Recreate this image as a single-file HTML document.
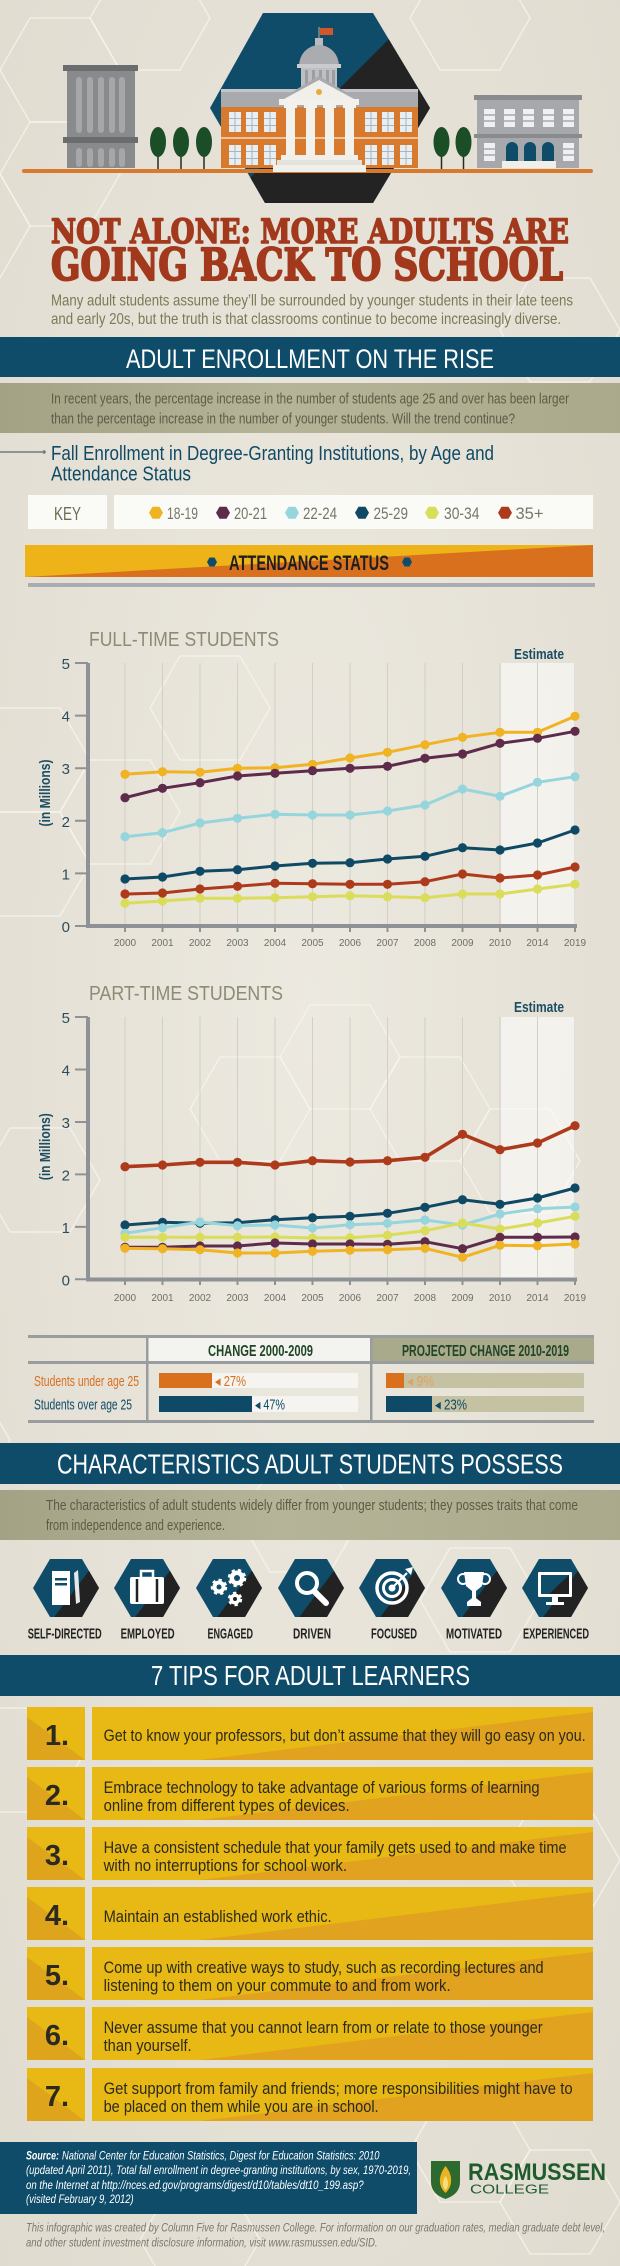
<!DOCTYPE html>
<html><head><meta charset="utf-8"><style>
html,body{margin:0;padding:0;width:620px;height:2266px;overflow:hidden;background:#E7E3D8}
svg{display:block}
text{font-family:"Liberation Sans",sans-serif}
.t{font-family:"Liberation Sans Narrow","Liberation Sans",sans-serif}
.serif{font-family:"DejaVu Serif","Liberation Serif",serif !important;font-weight:bold}
</style></head><body>
<svg width="620" height="2266" viewBox="0 0 620 2266" xmlns="http://www.w3.org/2000/svg">
<defs>
<radialGradient id="bg" cx="50%" cy="45%" r="75%"><stop offset="0" stop-color="#ECE9E0"/><stop offset="1" stop-color="#E0DBCF"/></radialGradient>
<linearGradient id="olive" x1="0" x2="1" y1="0" y2="0"><stop offset="0" stop-color="#A3A285"/><stop offset=".45" stop-color="#B6B498"/><stop offset="1" stop-color="#ABA98B"/></linearGradient>
<polygon id="bh" points="-30,-52 30,-52 60,0 30,52 -30,52 -60,0" fill="none" stroke="#F6F4EE" stroke-width="1.5" opacity=".75"/>
<clipPath id="hx"><polygon points="-16,-29 16,-29 33,0 16,29 -16,29 -33,0"/></clipPath>
<clipPath id="bighex"><polygon points="263,13 373,13 430,108 373,203 265,203 210,108"/></clipPath>
<g id="ic"><g clip-path="url(#hx)"><rect x="-34" y="-30" width="68" height="60" fill="#0E4C6A"/><polygon points="40,-40 40,40 -20,40" fill="#222"/></g></g>
<marker id="mY" viewBox="-5 -5 10 10" markerWidth="10" markerHeight="10" markerUnits="userSpaceOnUse"><circle r="4.6" fill="#F0B323"/></marker>
<marker id="mP" viewBox="-5 -5 10 10" markerWidth="10" markerHeight="10" markerUnits="userSpaceOnUse"><circle r="4.6" fill="#5E2B4B"/></marker>
<marker id="mL" viewBox="-5 -5 10 10" markerWidth="10" markerHeight="10" markerUnits="userSpaceOnUse"><circle r="4.6" fill="#97D5DD"/></marker>
<marker id="mT" viewBox="-5 -5 10 10" markerWidth="10" markerHeight="10" markerUnits="userSpaceOnUse"><circle r="4.6" fill="#0F4964"/></marker>
<marker id="mG" viewBox="-5 -5 10 10" markerWidth="10" markerHeight="10" markerUnits="userSpaceOnUse"><circle r="4.6" fill="#DADD5A"/></marker>
<marker id="mR" viewBox="-5 -5 10 10" markerWidth="10" markerHeight="10" markerUnits="userSpaceOnUse"><circle r="4.6" fill="#AE3A1C"/></marker>
</defs>

<rect width="620" height="2266" fill="url(#bg)"/>
<!-- background hexes -->
<use href="#bh" x="150" y="18"/><use href="#bh" x="60" y="70"/><use href="#bh" x="60" y="174"/><use href="#bh" x="-30" y="226"/>
<use href="#bh" x="470" y="18"/><use href="#bh" x="560" y="330"/>
<use href="#bh" x="30" y="760"/><use href="#bh" x="120" y="812"/><use href="#bh" x="30" y="864"/><use href="#bh" x="210" y="708"/>
<use href="#bh" x="340" y="1057"/><use href="#bh" x="430" y="1109"/><use href="#bh" x="520" y="1161"/><use href="#bh" x="250" y="1109"/>
<use href="#bh" x="40" y="1180"/><use href="#bh" x="-50" y="1440"/><use href="#bh" x="300" y="1520"/><use href="#bh" x="480" y="1600"/>
<use href="#bh" x="20" y="1760"/><use href="#bh" x="560" y="1860"/><use href="#bh" x="470" y="2150"/><use href="#bh" x="560" y="2202"/><use href="#bh" x="200" y="2240"/>

<!-- HEADER ILLUSTRATION -->
<g clip-path="url(#bighex)"><rect x="200" y="0" width="240" height="220" fill="#0E4C6A"/><polygon points="415,13 440,13 440,210 218,210" fill="#232323"/></g>
<!-- left building -->
<rect x="63" y="65" width="75" height="6" fill="#6B6C6E"/>
<rect x="67" y="71" width="68" height="97" fill="#898A8C"/>
<rect x="63" y="137" width="75" height="6" fill="#6B6C6E"/>
<g fill="#A6A7A9"><rect x="76" y="77" width="6" height="56" rx="3"/><rect x="87" y="77" width="6" height="56" rx="3"/><rect x="98" y="77" width="6" height="56" rx="3"/><rect x="109" y="77" width="6" height="56" rx="3"/><rect x="119" y="77" width="6" height="56" rx="3"/>
<rect x="76" y="148" width="6" height="19" rx="3"/><rect x="87" y="148" width="6" height="19" rx="3"/><rect x="98" y="148" width="6" height="19" rx="3"/><rect x="109" y="148" width="6" height="19" rx="3"/><rect x="119" y="148" width="6" height="19" rx="3"/></g>
<!-- trees -->
<g stroke="#2A2A22" stroke-width="1.5"><line x1="158" y1="145" x2="158" y2="169"/><line x1="181" y1="145" x2="181" y2="169"/><line x1="204" y1="145" x2="204" y2="169"/><line x1="441.5" y1="145" x2="441.5" y2="169"/><line x1="463.5" y1="145" x2="463.5" y2="169"/></g>
<g fill="#1B4D26"><ellipse cx="158" cy="142" rx="8" ry="15"/><ellipse cx="181" cy="142" rx="8" ry="15"/><ellipse cx="204" cy="142" rx="8" ry="15"/><ellipse cx="441.5" cy="142" rx="8" ry="15"/><ellipse cx="463.5" cy="142" rx="8" ry="15"/></g>
<!-- right building -->
<rect x="474" y="95" width="108" height="5" fill="#8A8B8E"/>
<rect x="477" y="100" width="102" height="68" fill="#A6A8AB"/>
<rect x="474" y="134" width="108" height="4" fill="#8A8B8E"/>
<g fill="#EEF0F2"><rect x="484" y="109" width="11" height="18"/><rect x="504" y="109" width="11" height="18"/><rect x="523" y="109" width="11" height="18"/><rect x="543" y="109" width="11" height="18"/><rect x="563" y="109" width="11" height="18"/><rect x="484" y="143" width="11" height="18"/><rect x="563" y="143" width="11" height="18"/></g>
<g stroke="#A6A8AB" stroke-width="1.5"><path d="M484 115h11M484 121h11M504 115h11M504 121h11M523 115h11M523 121h11M543 115h11M543 121h11M563 115h11M563 121h11M484 149h11M484 155h11M563 149h11M563 155h11"/></g>
<g fill="#0E4C6A"><path d="M506 162v-14a6 6 0 0 1 12 0v14z"/><path d="M524 162v-14a6 6 0 0 1 12 0v14z"/><path d="M542 162v-14a6 6 0 0 1 12 0v14z"/></g>
<rect x="502" y="161" width="54" height="7" fill="#F1EFEA"/>
<!-- ground -->
<rect x="22" y="169" width="571" height="4" fill="#D77A2E" rx="2"/>
<!-- main building -->
<line x1="319" y1="27" x2="319" y2="42" stroke="#8A8B8E" stroke-width="1.5"/>
<rect x="320" y="28" width="13" height="7" fill="#D2562A"/>
<rect x="315" y="38" width="8" height="8" fill="#B9BBBE"/>
<path d="M299 66a20 21 0 0 1 40 0z" fill="#AAACAF"/>
<rect x="297" y="64" width="44" height="4" fill="#C9CBCE"/>
<rect x="301" y="68" width="36" height="24" fill="#BDBFC2"/>
<g fill="#9C9EA1"><rect x="305" y="70" width="3" height="20"/><rect x="312" y="70" width="3" height="20"/><rect x="319" y="70" width="3" height="20"/><rect x="326" y="70" width="3" height="20"/><rect x="332" y="70" width="3" height="20"/></g>
<rect x="221" y="90" width="197" height="17" fill="#A8AAAD"/>
<rect x="221" y="89" width="197" height="3" fill="#C3C5C8"/>
<rect x="221" y="107" width="197" height="61" fill="#D77A2E"/>
<rect x="221" y="137" width="197" height="2" fill="#EFC29A"/>
<g fill="#EAEEF1"><rect x="229" y="112" width="12" height="20"/><rect x="246" y="112" width="12" height="20"/><rect x="264" y="112" width="12" height="20"/><rect x="365" y="112" width="12" height="20"/><rect x="382" y="112" width="12" height="20"/><rect x="400" y="112" width="12" height="20"/>
<rect x="229" y="145" width="12" height="20"/><rect x="246" y="145" width="12" height="20"/><rect x="264" y="145" width="12" height="20"/><rect x="365" y="145" width="12" height="20"/><rect x="382" y="145" width="12" height="20"/><rect x="400" y="145" width="12" height="20"/></g>
<g stroke="#A3B6C2" stroke-width="1"><path d="M229 118.5h12M229 125.5h12M235 112v20M246 118.5h12M246 125.5h12M252 112v20M264 118.5h12M264 125.5h12M270 112v20M365 118.5h12M365 125.5h12M371 112v20M382 118.5h12M382 125.5h12M388 112v20M400 118.5h12M400 125.5h12M406 112v20"/>
<path d="M229 151.5h12M229 158.5h12M235 145v20M246 151.5h12M246 158.5h12M252 145v20M264 151.5h12M264 158.5h12M270 145v20M365 151.5h12M365 158.5h12M371 145v20M382 151.5h12M382 158.5h12M388 145v20M400 151.5h12M400 158.5h12M406 145v20"/></g>
<polygon points="277,101 319,76 361,101" fill="#A8AAAD"/>
<polygon points="284,99 319,80 354,99" fill="#F1EFEA"/>
<circle cx="319" cy="92" r="3" fill="#E9A93C"/>
<rect x="279" y="99" width="80" height="6" fill="#F3F1EC"/>
<g fill="#F3F1EC"><rect x="286" y="105" width="9" height="51"/><rect x="306" y="105" width="9" height="51"/><rect x="325" y="105" width="9" height="51"/><rect x="345" y="105" width="9" height="51"/>
<rect x="284" y="105" width="13" height="3"/><rect x="304" y="105" width="13" height="3"/><rect x="323" y="105" width="13" height="3"/><rect x="343" y="105" width="13" height="3"/></g>
<rect x="281" y="155" width="77" height="5" fill="#F1EFEA"/>
<rect x="277" y="160" width="85" height="5" fill="#E4E2DC"/>
<rect x="273" y="165" width="93" height="7" fill="#F1EFEA"/>

<!-- TITLE -->
<text x="51" y="243" class="serif" style="font-family:'DejaVu Serif','Liberation Serif',serif;font-weight:bold" font-size="34" fill="#A2391D" stroke="#A2391D" stroke-width="1.6" stroke-linejoin="round" textLength="518" lengthAdjust="spacingAndGlyphs">NOT ALONE: MORE ADULTS ARE</text>
<text x="51" y="280" class="serif" style="font-family:'DejaVu Serif','Liberation Serif',serif;font-weight:bold" font-size="44" fill="#A2391D" stroke="#A2391D" stroke-width="2" stroke-linejoin="round" textLength="512" lengthAdjust="spacingAndGlyphs">GOING BACK TO SCHOOL</text>
<g font-size="16" fill="#7B7A55">
<text x="51" y="305.5" textLength="522" lengthAdjust="spacingAndGlyphs" class="t">Many adult students assume they’ll be surrounded by younger students in their late teens</text>
<text x="51" y="324" textLength="510" lengthAdjust="spacingAndGlyphs" class="t">and early 20s, but the truth is that classrooms continue to become increasingly diverse.</text>
</g>

<!-- BANNER 1 -->
<rect x="0" y="337" width="620" height="40" fill="#0E4C6A"/>
<text x="126" y="368" font-size="27" fill="#fff" textLength="368" lengthAdjust="spacingAndGlyphs">ADULT ENROLLMENT ON THE RISE</text>
<rect x="0" y="383" width="620" height="50" fill="url(#olive)"/>
<text x="51" y="403.3" font-size="15" fill="#5C5B45" class="t" textLength="518" lengthAdjust="spacingAndGlyphs">In recent years, the percentage increase in the number of students age 25 and over has been larger</text>
<text x="51" y="423.3" font-size="15" fill="#5C5B45" class="t" textLength="464" lengthAdjust="spacingAndGlyphs">than the percentage increase in the number of younger students. Will the trend continue?</text>

<line x1="0" y1="452" x2="42" y2="452" stroke="#6D7E80" stroke-width="1.5"/><circle cx="44" cy="452" r="1.8" fill="#6D7E80"/>
<text x="51" y="460" font-size="20" fill="#0F4A66" class="t" textLength="443" lengthAdjust="spacingAndGlyphs">Fall Enrollment in Degree-Granting Institutions, by Age and</text>
<text x="51" y="480.7" font-size="20" fill="#0F4A66" class="t" textLength="140" lengthAdjust="spacingAndGlyphs">Attendance Status</text>

<!-- KEY -->
<rect x="28" y="495" width="79" height="34" fill="#FAFAF7"/>
<rect x="114" y="495" width="479" height="34" fill="#FAFAF7"/>
<text x="54" y="520" font-size="18" fill="#6E6C52" class="t" textLength="27" lengthAdjust="spacingAndGlyphs">KEY</text>
<g transform="translate(0,512.7)">
<polygon transform="translate(156,0)" points="-3.5,-6 3.5,-6 7,0 3.5,6 -3.5,6 -7,0" fill="#F0B323"/>
<polygon transform="translate(223,0)" points="-3.5,-6 3.5,-6 7,0 3.5,6 -3.5,6 -7,0" fill="#5E2B4B"/>
<polygon transform="translate(292,0)" points="-3.5,-6 3.5,-6 7,0 3.5,6 -3.5,6 -7,0" fill="#97D5DD"/>
<polygon transform="translate(362,0)" points="-3.5,-6 3.5,-6 7,0 3.5,6 -3.5,6 -7,0" fill="#0F4964"/>
<polygon transform="translate(432,0)" points="-3.5,-6 3.5,-6 7,0 3.5,6 -3.5,6 -7,0" fill="#DADD5A"/>
<polygon transform="translate(505,0)" points="-3.5,-6 3.5,-6 7,0 3.5,6 -3.5,6 -7,0" fill="#AE3A1C"/>
</g>
<g font-size="17" fill="#777768">
<text x="167" y="519" class="t" textLength="31" lengthAdjust="spacingAndGlyphs">18-19</text>
<text x="234" y="519" class="t" textLength="33" lengthAdjust="spacingAndGlyphs">20-21</text>
<text x="303" y="519" class="t" textLength="34" lengthAdjust="spacingAndGlyphs">22-24</text>
<text x="373.5" y="519" class="t" textLength="34.5" lengthAdjust="spacingAndGlyphs">25-29</text>
<text x="444" y="519" class="t" textLength="35.5" lengthAdjust="spacingAndGlyphs">30-34</text>
<text x="515.5" y="519" class="t" textLength="28" lengthAdjust="spacingAndGlyphs">35+</text>
</g>

<!-- ATTENDANCE -->
<rect x="25" y="545" width="568" height="32" fill="#EDB319"/>
<polygon points="25,577 593,545 593,577" fill="#D9701E"/>
<text x="229" y="570" font-size="21" font-weight="bold" fill="#1F1F1F" class="t" textLength="160" lengthAdjust="spacingAndGlyphs">ATTENDANCE STATUS</text>
<polygon transform="translate(212,562)" points="-2.5,-4.5 2.5,-4.5 5,0 2.5,4.5 -2.5,4.5 -5,0" fill="#0E4C6A"/>
<polygon transform="translate(407,562)" points="-2.5,-4.5 2.5,-4.5 5,0 2.5,4.5 -2.5,4.5 -5,0" fill="#0E4C6A"/>
<rect x="28" y="583" width="567" height="4" fill="#A9ACB1"/>

<!-- FULL-TIME CHART -->
<text x="89" y="646" font-size="20" fill="#8C8B74" textLength="190" lengthAdjust="spacingAndGlyphs">FULL-TIME STUDENTS</text>
<text x="514" y="659" font-size="15" font-weight="bold" fill="#1B4D63" class="t" textLength="50" lengthAdjust="spacingAndGlyphs">Estimate</text>
<rect x="501" y="663" width="75" height="262" fill="#FFFFFF" opacity=".55"/>
<path d="M125 663V924M162.5 663V924M200 663V924M237.5 663V924M275 663V924M312.5 663V924M350 663V924M387.5 663V924M425 663V924M462.5 663V924M500 663V924M537.5 663V924M575 663V924" stroke="#D2CFC5" stroke-width="1"/>
<rect x="86" y="663" width="4" height="265" fill="#8E9195"/>
<rect x="86" y="924" width="491" height="4" fill="#8E9195"/>
<path d="M75 663H88M75 715.6H88M75 768.2H88M75 820.8H88M75 873.4H88M75 926H88" stroke="#8E9195" stroke-width="2"/>
<path d="M125 926v6M162.5 926v6M200 926v6M237.5 926v6M275 926v6M312.5 926v6M350 926v6M387.5 926v6M425 926v6M462.5 926v6M500 926v6M537.5 926v6M575 926v6" stroke="#8E9195" stroke-width="2"/>
<g font-size="15" fill="#2E4D5C" text-anchor="end">
<text x="70" y="669">5</text><text x="70" y="721.6">4</text><text x="70" y="774.2">3</text><text x="70" y="826.8">2</text><text x="70" y="879.4">1</text><text x="70" y="932">0</text>
</g>
<text transform="translate(50,793) rotate(-90)" text-anchor="middle" font-size="15" font-weight="bold" fill="#1B4D63" textLength="67" lengthAdjust="spacingAndGlyphs">(in Millions)</text>
<g font-size="10" fill="#6F6E66" text-anchor="middle">
<text x="125" y="946">2000</text><text x="162.5" y="946">2001</text><text x="200" y="946">2002</text><text x="237.5" y="946">2003</text><text x="275" y="946">2004</text><text x="312.5" y="946">2005</text><text x="350" y="946">2006</text><text x="387.5" y="946">2007</text><text x="425" y="946">2008</text><text x="462.5" y="946">2009</text><text x="500" y="946">2010</text><text x="537.5" y="946">2014</text><text x="575" y="946">2019</text>
</g>
<g fill="none" stroke-width="3" stroke-linejoin="round">
<polyline stroke="#DADD5A" marker-start="url(#mG)" marker-mid="url(#mG)" marker-end="url(#mG)" points="125,903.3 162.5,901 200,898.3 237.5,898.3 275,897.7 312.5,896.7 350,895.7 387.5,896.7 425,897.7 462.5,894 500,894 537.5,889 575,884.3"/>
<polyline stroke="#AE3A1C" marker-start="url(#mR)" marker-mid="url(#mR)" marker-end="url(#mR)" points="125,894 162.5,893 200,889 237.5,886.3 275,883.3 312.5,883.7 350,884.3 387.5,884.3 425,881.7 462.5,874 500,878 537.5,875 575,867"/>
<polyline stroke="#0F4964" marker-start="url(#mT)" marker-mid="url(#mT)" marker-end="url(#mT)" points="125,879 162.5,877 200,871.3 237.5,869.7 275,866 312.5,863.3 350,862.7 387.5,859 425,856.3 462.5,847.7 500,850 537.5,843 575,830"/>
<polyline stroke="#97D5DD" marker-start="url(#mL)" marker-mid="url(#mL)" marker-end="url(#mL)" points="125,836.7 162.5,832.7 200,823 237.5,818.3 275,814.3 312.5,815 350,815 387.5,811 425,805 462.5,789 500,796.3 537.5,782.3 575,776.7"/>
<polyline stroke="#F0B323" marker-start="url(#mY)" marker-mid="url(#mY)" marker-end="url(#mY)" points="125,774.3 162.5,771.7 200,772.3 237.5,768.3 275,767.7 312.5,764.3 350,758 387.5,752.3 425,744.7 462.5,737.3 500,732.3 537.5,732.3 575,716.3"/>
<polyline stroke="#5E2B4B" marker-start="url(#mP)" marker-mid="url(#mP)" marker-end="url(#mP)" points="125,797.7 162.5,788.3 200,782.7 237.5,776 275,773.3 312.5,770.7 350,768.3 387.5,766.3 425,758.3 462.5,754 500,743.3 537.5,738.3 575,731.3"/>
</g>

<!-- PART-TIME CHART -->
<text x="89" y="1000" font-size="20" fill="#8C8B74" textLength="194" lengthAdjust="spacingAndGlyphs">PART-TIME STUDENTS</text>
<text x="514" y="1012" font-size="15" font-weight="bold" fill="#1B4D63" class="t" textLength="50" lengthAdjust="spacingAndGlyphs">Estimate</text>
<rect x="501" y="1017" width="75" height="261" fill="#FFFFFF" opacity=".55"/>
<path d="M125 1017V1277M162.5 1017V1277M200 1017V1277M237.5 1017V1277M275 1017V1277M312.5 1017V1277M350 1017V1277M387.5 1017V1277M425 1017V1277M462.5 1017V1277M500 1017V1277M537.5 1017V1277M575 1017V1277" stroke="#D2CFC5" stroke-width="1"/>
<rect x="86" y="1017" width="4" height="264" fill="#8E9195"/>
<rect x="86" y="1277.5" width="491" height="4" fill="#8E9195"/>
<path d="M75 1017H88M75 1069.5H88M75 1122H88M75 1174.4H88M75 1226.9H88M75 1279.3H88" stroke="#8E9195" stroke-width="2"/>
<path d="M125 1279v6M162.5 1279v6M200 1279v6M237.5 1279v6M275 1279v6M312.5 1279v6M350 1279v6M387.5 1279v6M425 1279v6M462.5 1279v6M500 1279v6M537.5 1279v6M575 1279v6" stroke="#8E9195" stroke-width="2"/>
<g font-size="15" fill="#2E4D5C" text-anchor="end">
<text x="70" y="1023">5</text><text x="70" y="1075.5">4</text><text x="70" y="1128">3</text><text x="70" y="1180.4">2</text><text x="70" y="1232.9">1</text><text x="70" y="1285.3">0</text>
</g>
<text transform="translate(50,1146.7) rotate(-90)" text-anchor="middle" font-size="15" font-weight="bold" fill="#1B4D63" textLength="67" lengthAdjust="spacingAndGlyphs">(in Millions)</text>
<g font-size="10" fill="#6F6E66" text-anchor="middle">
<text x="125" y="1301">2000</text><text x="162.5" y="1301">2001</text><text x="200" y="1301">2002</text><text x="237.5" y="1301">2003</text><text x="275" y="1301">2004</text><text x="312.5" y="1301">2005</text><text x="350" y="1301">2006</text><text x="387.5" y="1301">2007</text><text x="425" y="1301">2008</text><text x="462.5" y="1301">2009</text><text x="500" y="1301">2010</text><text x="537.5" y="1301">2014</text><text x="575" y="1301">2019</text>
</g>
<g fill="none" stroke-width="3" stroke-linejoin="round">
<polyline stroke="#AE3A1C" stroke-width="3.6" marker-start="url(#mR)" marker-mid="url(#mR)" marker-end="url(#mR)" points="125,1166.7 162.5,1165 200,1162.3 237.5,1162.3 275,1165 312.5,1160.7 350,1162 387.5,1160.7 425,1157.3 462.5,1134.3 500,1149.7 537.5,1143 575,1125.7"/>
<polyline stroke="#0F4964" marker-start="url(#mT)" marker-mid="url(#mT)" marker-end="url(#mT)" points="125,1225 162.5,1222.3 200,1223.3 237.5,1222.7 275,1219.7 312.5,1217.7 350,1216.3 387.5,1213.3 425,1207.3 462.5,1199.7 500,1204.3 537.5,1198 575,1188"/>
<polyline stroke="#97D5DD" marker-start="url(#mL)" marker-mid="url(#mL)" marker-end="url(#mL)" points="125,1233.3 162.5,1227.7 200,1222 237.5,1225.7 275,1225 312.5,1228 350,1224.7 387.5,1223.3 425,1220 462.5,1225 500,1214 537.5,1208.7 575,1207"/>
<polyline stroke="#DADD5A" marker-start="url(#mG)" marker-mid="url(#mG)" marker-end="url(#mG)" points="125,1237.3 162.5,1237.3 200,1237.3 237.5,1237.3 275,1237 312.5,1238 350,1237.7 387.5,1235.3 425,1230.7 462.5,1223 500,1229 537.5,1223 575,1216.3"/>
<polyline stroke="#5E2B4B" marker-start="url(#mP)" marker-mid="url(#mP)" marker-end="url(#mP)" points="125,1247.3 162.5,1247.3 200,1246 237.5,1246 275,1243 312.5,1244 350,1244 387.5,1244.3 425,1241.7 462.5,1248.7 500,1237.3 537.5,1237.3 575,1237"/>
<polyline stroke="#F0B323" marker-start="url(#mY)" marker-mid="url(#mY)" marker-end="url(#mY)" points="125,1248.3 162.5,1248.7 200,1249.7 237.5,1253 275,1253 312.5,1251.3 350,1250.3 387.5,1249.7 425,1248.3 462.5,1257.3 500,1245.3 537.5,1245.7 575,1244"/>
</g>

<!-- CHANGE TABLE -->
<rect x="148" y="1338" width="222" height="23" fill="#F3F3F0"/>
<rect x="372" y="1338" width="222" height="23" fill="#A9A98B"/>
<rect x="28" y="1335" width="566" height="3" fill="#9A9DA0"/>
<rect x="28" y="1361" width="566" height="3" fill="#9A9DA0"/>
<rect x="28" y="1420" width="566" height="3" fill="#9A9DA0"/>
<rect x="146" y="1336" width="2.5" height="86" fill="#9A9DA0"/>
<rect x="370" y="1336" width="2.5" height="86" fill="#9A9DA0"/>
<text x="208" y="1356" font-size="16" font-weight="bold" fill="#1F4526" class="t" textLength="105" lengthAdjust="spacingAndGlyphs">CHANGE 2000-2009</text>
<text x="402" y="1356" font-size="16" font-weight="bold" fill="#1F4526" class="t" textLength="167" lengthAdjust="spacingAndGlyphs">PROJECTED CHANGE 2010-2019</text>
<text x="34" y="1386" font-size="15" fill="#D9701E" class="t" textLength="105" lengthAdjust="spacingAndGlyphs">Students under age 25</text>
<text x="34" y="1409.3" font-size="15" fill="#0E4A66" class="t" textLength="98" lengthAdjust="spacingAndGlyphs">Students over age 25</text>
<rect x="159" y="1373" width="199" height="15" fill="#F5F4F0"/>
<rect x="159" y="1396" width="199" height="16" fill="#F5F4F0"/>
<rect x="386" y="1373" width="198" height="15" fill="#C4C2A3"/>
<rect x="386" y="1396" width="198" height="16" fill="#C4C2A3"/>
<rect x="159" y="1373" width="53" height="15" fill="#D9701E"/>
<rect x="159" y="1396" width="93" height="16" fill="#0E4A66"/>
<rect x="386" y="1373" width="18" height="15" fill="#D9701E"/>
<rect x="386" y="1396" width="46" height="16" fill="#0E4A66"/>
<text x="215" y="1386" font-size="15" fill="#D9701E" class="t" textLength="31" lengthAdjust="spacingAndGlyphs">◂ 27%</text>
<text x="255" y="1409.5" font-size="15" fill="#0E4A66" class="t" textLength="30" lengthAdjust="spacingAndGlyphs">◂ 47%</text>
<text x="407" y="1386" font-size="15" fill="#E3A064" class="t" textLength="27" lengthAdjust="spacingAndGlyphs">◂ 9%</text>
<text x="435" y="1409.5" font-size="15" fill="#0E4A66" class="t" textLength="32" lengthAdjust="spacingAndGlyphs">◂ 23%</text>

<!-- BANNER 2 -->
<rect x="0" y="1443" width="620" height="41" fill="#0E4C6A"/>
<text x="57" y="1473.5" font-size="27.5" fill="#fff" textLength="506" lengthAdjust="spacingAndGlyphs">CHARACTERISTICS ADULT STUDENTS POSSESS</text>
<rect x="0" y="1490" width="620" height="50" fill="url(#olive)"/>
<text x="46" y="1510" font-size="15" fill="#5C5B45" class="t" textLength="532" lengthAdjust="spacingAndGlyphs">The characteristics of adult students widely differ from younger students; they posses traits that come</text>
<text x="46" y="1530" font-size="15" fill="#5C5B45" class="t" textLength="179" lengthAdjust="spacingAndGlyphs">from independence and experience.</text>

<!-- ICONS -->
<g transform="translate(66,1588)"><use href="#ic"/>
<rect x="-14" y="-17" width="18" height="34" fill="#fff"/><rect x="-11" y="-10" width="12" height="2.5" fill="#0E4C6A"/><rect x="-11" y="-5" width="12" height="2.5" fill="#0E4C6A"/>
<polygon points="8,-15 12,-18 14,14 10,16" fill="#E8E8E8"/></g>
<g transform="translate(147,1588)"><use href="#ic"/>
<rect x="-6" y="-17" width="12" height="7" fill="none" stroke="#fff" stroke-width="2.5"/>
<rect x="-17" y="-11" width="34" height="27" rx="2" fill="#fff"/><path d="M-10 -9V14M10 -9V14" stroke="#222" stroke-width="2.5"/></g>
<g transform="translate(229,1588)"><use href="#ic"/>
<g fill="#fff" stroke="#fff" stroke-width="3.5" stroke-dasharray="3 3">
<circle cx="-10" cy="-1" r="6.5"/><circle cx="8" cy="-10" r="7.5"/><circle cx="6" cy="11" r="5.5"/></g>
<circle cx="-10" cy="-1" r="2.5" fill="#0E4C6A"/><circle cx="8" cy="-10" r="3" fill="#0E4C6A"/><circle cx="6" cy="11" r="2" fill="#222"/></g>
<g transform="translate(311,1588)"><use href="#ic"/>
<circle cx="-4" cy="-5" r="10" fill="none" stroke="#fff" stroke-width="4"/>
<line x1="4" y1="4" x2="15" y2="15" stroke="#fff" stroke-width="6" stroke-linecap="round"/></g>
<g transform="translate(392,1588)"><use href="#ic"/>
<circle r="15" fill="none" stroke="#fff" stroke-width="3.5"/><circle r="8.5" fill="none" stroke="#fff" stroke-width="3"/><circle r="3.5" fill="#fff"/>
<line x1="0" y1="0" x2="15" y2="-15" stroke="#fff" stroke-width="2"/><polygon points="13,-19 19,-13 21,-21" fill="#fff"/></g>
<g transform="translate(474,1588)"><use href="#ic"/>
<polygon points="-10,-16 10,-16 8,-2 2,3 2,10 7,14 7,18 -7,18 -7,14 -2,10 -2,3 -8,-2" fill="#fff"/>
<circle cx="-11" cy="-9" r="5" fill="none" stroke="#fff" stroke-width="2"/><circle cx="11" cy="-9" r="5" fill="none" stroke="#fff" stroke-width="2"/></g>
<g transform="translate(555,1588)"><use href="#ic"/>
<rect x="-17" y="-16" width="34" height="25" rx="1" fill="#fff"/><rect x="-14" y="-13" width="28" height="19" fill="#0E4C6A"/><polygon points="14,-13 14,6 -6,6" fill="#222"/>
<rect x="-3" y="9" width="6" height="5" fill="#fff"/><rect x="-9" y="14" width="18" height="3" fill="#fff"/></g>
<g font-size="15" font-weight="bold" fill="#222">
<text x="27.7" y="1638.3" class="t" textLength="74" lengthAdjust="spacingAndGlyphs">SELF-DIRECTED</text>
<text x="120.6" y="1638.3" class="t" textLength="54" lengthAdjust="spacingAndGlyphs">EMPLOYED</text>
<text x="207.5" y="1638.3" class="t" textLength="45.5" lengthAdjust="spacingAndGlyphs">ENGAGED</text>
<text x="293" y="1638.3" class="t" textLength="38" lengthAdjust="spacingAndGlyphs">DRIVEN</text>
<text x="371" y="1638.3" class="t" textLength="46" lengthAdjust="spacingAndGlyphs">FOCUSED</text>
<text x="446" y="1638.3" class="t" textLength="56" lengthAdjust="spacingAndGlyphs">MOTIVATED</text>
<text x="523" y="1638.3" class="t" textLength="66" lengthAdjust="spacingAndGlyphs">EXPERIENCED</text>
</g>

<!-- BANNER 3 -->
<rect x="0" y="1655" width="620" height="41" fill="#0E4C6A"/>
<text x="151" y="1685" font-size="28" fill="#fff" textLength="319" lengthAdjust="spacingAndGlyphs">7 TIPS FOR ADULT LEARNERS</text>

<!-- TIPS -->
<g id="tipbox">
<rect x="27" y="1707" width="58" height="53" fill="#E8B815"/><polygon points="27,1717 85,1760 27,1760" fill="#DEA51C"/>
<rect x="92" y="1707" width="501" height="53" fill="#E8B815"/><polygon points="200,1760 593,1712 593,1760" fill="#E0A21F"/>
</g>
<use href="#tipbox" y="60"/><use href="#tipbox" y="120"/><use href="#tipbox" y="180"/><use href="#tipbox" y="240"/><use href="#tipbox" y="300"/><use href="#tipbox" y="361"/>
<g font-size="29" font-weight="bold" fill="#2C2A20" text-anchor="middle">
<text x="57" y="1745" class="t">1.</text><text x="57" y="1805" class="t">2.</text><text x="57" y="1865" class="t">3.</text><text x="57" y="1925" class="t">4.</text><text x="57" y="1985" class="t">5.</text><text x="57" y="2045" class="t">6.</text><text x="57" y="2106" class="t">7.</text>
</g>
<g font-size="16.5" fill="#2B2A1B">
<text x="103.6" y="1741" class="t" textLength="482" lengthAdjust="spacingAndGlyphs">Get to know your professors, but don’t assume that they will go easy on you.</text>
<text x="103.6" y="1793" class="t" textLength="436" lengthAdjust="spacingAndGlyphs">Embrace technology to take advantage of various forms of learning</text>
<text x="103.6" y="1811" class="t" textLength="246" lengthAdjust="spacingAndGlyphs">online from different types of devices.</text>
<text x="103.6" y="1853" class="t" textLength="463" lengthAdjust="spacingAndGlyphs">Have a consistent schedule that your family gets used to and make time</text>
<text x="103.6" y="1871" class="t" textLength="243.5" lengthAdjust="spacingAndGlyphs">with no interruptions for school work.</text>
<text x="103.6" y="1922" class="t" textLength="228" lengthAdjust="spacingAndGlyphs">Maintain an established work ethic.</text>
<text x="103.6" y="1973" class="t" textLength="440" lengthAdjust="spacingAndGlyphs">Come up with creative ways to study, such as recording lectures and</text>
<text x="103.6" y="1991" class="t" textLength="347" lengthAdjust="spacingAndGlyphs">listening to them on your commute to and from work.</text>
<text x="103.6" y="2033" class="t" textLength="439" lengthAdjust="spacingAndGlyphs">Never assume that you cannot learn from or relate to those younger</text>
<text x="103.6" y="2051" class="t" textLength="88" lengthAdjust="spacingAndGlyphs">than yourself.</text>
<text x="103.6" y="2094" class="t" textLength="469" lengthAdjust="spacingAndGlyphs">Get support from family and friends; more responsibilities might have to</text>
<text x="103.6" y="2112" class="t" textLength="275" lengthAdjust="spacingAndGlyphs">be placed on them while you are in school.</text>
</g>

<!-- FOOTER -->
<rect x="0" y="2142" width="417" height="72" fill="#0E4C6A"/>
<g font-size="12" fill="#fff" font-style="italic">
<text x="26" y="2159.3" font-weight="bold" class="t" textLength="33" lengthAdjust="spacingAndGlyphs">Source:</text>
<text x="62" y="2159.3" class="t" textLength="317.5" lengthAdjust="spacingAndGlyphs">National Center for Education Statistics, Digest for Education Statistics: 2010</text>
<text x="26" y="2174" class="t" textLength="385" lengthAdjust="spacingAndGlyphs">(updated April 2011), Total fall enrollment in degree-granting institutions, by sex, 1970-2019,</text>
<text x="26" y="2189" class="t" textLength="337.6" lengthAdjust="spacingAndGlyphs">on the Internet at http://nces.ed.gov/programs/digest/d10/tables/dt10_199.asp?</text>
<text x="26" y="2203" class="t" textLength="107.6" lengthAdjust="spacingAndGlyphs">(visited February 9, 2012)</text>
</g>
<path d="M431 2161H460V2182Q460 2194 445.5 2199Q431 2194 431 2182Z" fill="#2E6A2E"/>
<path d="M445.5 2166C453 2175 453 2186 445.5 2193C438 2186 438 2176 445.5 2166Z" fill="#E9B420"/>
<path d="M445.5 2176C449 2181 449 2187 445.5 2190C442 2187 442 2181 445.5 2176Z" fill="#F6DC7A"/>
<text x="468" y="2180" font-size="24" font-weight="bold" fill="#1F5B2C" textLength="138" lengthAdjust="spacingAndGlyphs">RASMUSSEN</text>
<text x="470" y="2193.5" font-size="12.5" fill="#1F5B2C" textLength="79" lengthAdjust="spacingAndGlyphs">COLLEGE</text>
<g font-size="12" fill="#7A7870" font-style="italic">
<text x="26" y="2231.7" class="t" textLength="579" lengthAdjust="spacingAndGlyphs">This infographic was created by Column Five for Rasmussen College. For information on our graduation rates, median graduate debt level,</text>
<text x="26" y="2246.7" class="t" textLength="351.5" lengthAdjust="spacingAndGlyphs">and other student investment disclosure information, visit www.rasmussen.edu/SID.</text>
</g>
</svg>
</body></html>
